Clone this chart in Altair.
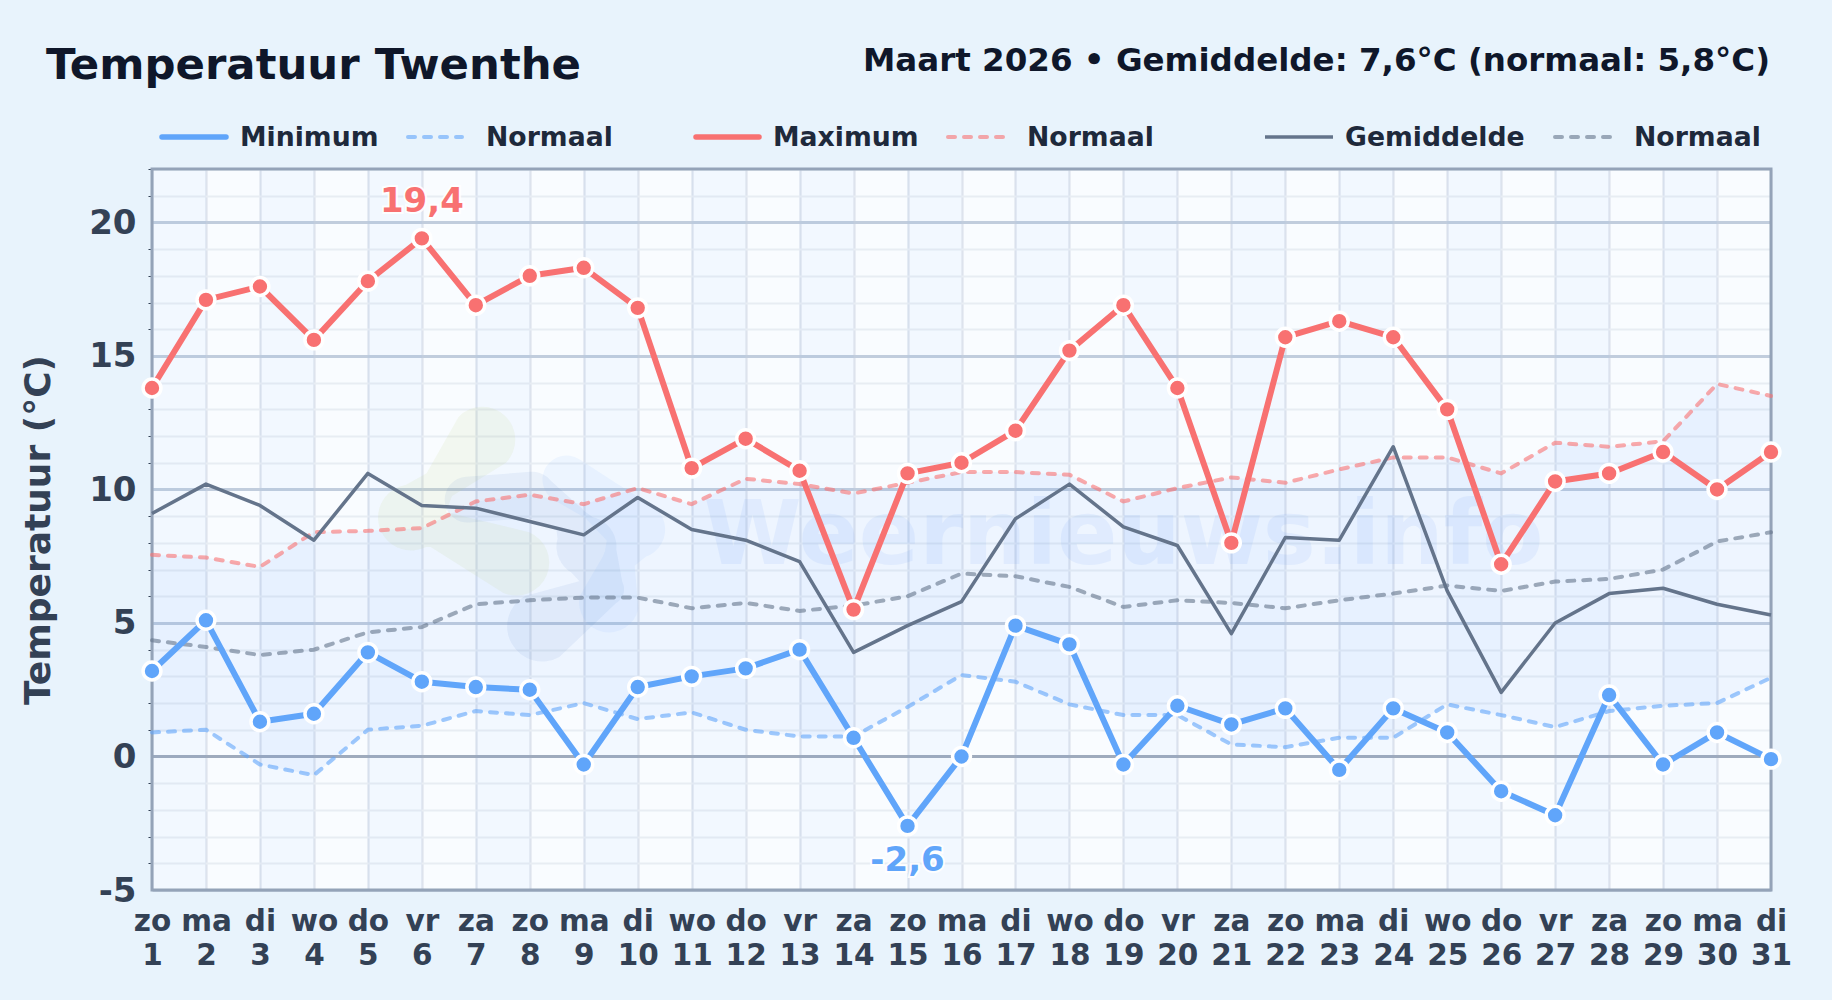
import altair as alt
import pandas as pd

days = list(range(1, 32))
weekdays = ["zo","ma","di","wo","do","vr","za"] * 4 + ["zo","ma","di"]

t_min = [3.2,5.1,1.3,1.6,3.9,2.8,2.6,2.5,-0.3,2.6,3.0,3.3,4.0,0.7,-2.6,0.0,4.9,4.2,-0.3,1.9,1.2,1.8,-0.5,1.8,0.9,-1.3,-2.2,2.3,-0.3,0.9,-0.1]
t_max = [13.8,17.1,17.6,15.6,17.8,19.4,16.9,18.0,18.3,16.8,10.8,11.9,10.7,5.5,10.6,11.0,12.2,15.2,16.9,13.8,8.0,15.7,16.3,15.7,13.0,7.2,10.3,10.6,11.4,10.0,11.4]
t_avg = [9.1,10.2,9.4,8.1,10.6,9.4,9.3,8.8,8.3,9.7,8.5,8.1,7.3,3.9,4.9,5.8,8.9,10.2,8.6,7.9,4.6,8.2,8.1,11.6,6.2,2.4,5.0,6.1,6.3,5.7,5.3]
n_min = [0.9,1.0,-0.3,-0.7,1.0,1.15,1.7,1.55,2.0,1.4,1.65,1.0,0.75,0.75,1.85,3.05,2.8,1.95,1.55,1.55,0.45,0.35,0.7,0.7,1.95,1.55,1.1,1.7,1.9,2.0,2.95]
n_max = [7.55,7.45,7.1,8.4,8.45,8.55,9.55,9.8,9.45,10.05,9.45,10.4,10.2,9.85,10.25,10.65,10.65,10.55,9.55,10.05,10.45,10.25,10.75,11.2,11.2,10.6,11.75,11.6,11.8,13.95,13.5]
n_avg = [4.35,4.1,3.8,4.0,4.65,4.85,5.7,5.85,5.95,5.95,5.55,5.75,5.45,5.65,6.0,6.85,6.75,6.35,5.6,5.85,5.75,5.55,5.85,6.1,6.4,6.2,6.55,6.65,7.0,8.05,8.4]

# watermark logo lobes: (day, degrees, thickness)
blob_green = [(7.12,11.86,66),(6.32,10.18,34),(5.8,8.95,66),(6.3,8.5,38),(7.75,7.26,66)]
blob_dark = [(6.85,9.62,46),(8.05,9.8,46),(8.74,8.9,32),(9.05,7.86,60),(9.45,6.26,32),(8.23,4.87,70)]
blob_light = [(8.68,10.37,48),(9.29,9.62,46),(9.97,8.5,58),(9.65,7.38,32),(9.47,5.77,60)]

FONT = "DejaVu Sans"
BG = "#e8f3fc"
L, T = 152, 169
W, H = 1619, 721

df = pd.DataFrame(dict(day=days, tmin=t_min, tmax=t_max, tavg=t_avg, nmin=n_min, nmax=n_max, navg=n_avg))
stripes = pd.DataFrame({"a": days[:-1][::2], "b": days[1:][::2]})

xs = alt.Scale(domain=[1, 31], nice=False, zero=False)
ys = alt.Scale(domain=[-5, 22], nice=False, zero=False)

names_js = "[" + ",".join(f"'{d}'" for d in weekdays) + "]"
major = "datum.value % 5 === 0"
x_axis = alt.Axis(
    values=days, labelExpr=f"[{names_js}[datum.value-1], ''+datum.value]",
    labelFont=FONT, labelFontWeight="bold", labelFontSize=29.5, labelColor="#334155",
    labelLineHeight=34, labelPadding=17, labelOverlap=False, labelFlush=False, ticks=False, domain=False,
    grid=True, gridColor="#dde3ed", gridWidth=2.2)
y_axis = alt.Axis(
    values=list(range(-5, 23)), labelExpr=f"{major} ? '' + datum.value : ''",
    labelFont=FONT, labelFontWeight="bold", labelFontSize=34, labelColor="#334155", labelPadding=12, labelOffset=1,
    labelOverlap=False, domain=False, tickSize=4,
    tickColor={"condition": {"test": major, "value": "transparent"}, "value": "#334155"},
    grid=True,
    gridColor={"condition": [{"test": "datum.value === 0", "value": "#9fabbd"}, {"test": major, "value": "#c1cddd"}], "value": "#e8edf3"},
    gridWidth={"condition": {"test": major, "value": 2.8}, "value": 2},
    titleFont=FONT, titleFontWeight="bold", titleFontSize=36, titleColor="#334155", titlePadding=31)

YT = "Temperatuur (°C)"
X = alt.X("day:Q", scale=xs, axis=x_axis, title=None)
def Y(f):
    return alt.Y(f, type="quantitative", scale=ys, axis=y_axis, title=YT)

stripe_layer = alt.Chart(stripes).mark_rect(color="#60a5fa", opacity=0.045).encode(
    x=alt.X("a:Q", scale=xs, axis=x_axis, title=None), x2="b:Q")

def blob(pts, color, op):
    d = pd.DataFrame([{"day": a, "v": b, "w": w, "i": i} for i, (a, b, w) in enumerate(pts)])
    return alt.Chart(d).mark_trail(color=color, opacity=op).encode(
        x=X, y=Y("v"), order="i:Q", size=alt.Size("w:Q", scale=None, legend=None))

blobs = [blob(blob_green, "#c6dc8a", 0.13), blob(blob_light, "#60a5fa", 0.08), blob(blob_dark, "#3b72c0", 0.075)]

wm = alt.Chart(pd.DataFrame({"day": [19.0], "v": [7.2], "t": ["Weernieuws.info"]})).mark_text(
    font=FONT, fontWeight="bold", fontSize=89, color="#3b82f6", opacity=0.075, align="center", baseline="alphabetic"
).encode(x=X, y=Y("v"), text="t:N")

band = alt.Chart(df).mark_area(color="#3b82f6", opacity=0.055).encode(x=X, y=Y("nmin"), y2="nmax:Q")

def dashed(f, color):
    return alt.Chart(df).mark_line(color=color, opacity=0.6, strokeWidth=4, strokeDash=[7, 9], strokeCap="round").encode(x=X, y=Y(f))

def solid(f, color, w):
    return alt.Chart(df).mark_line(color=color, strokeWidth=w, strokeJoin="round").encode(x=X, y=Y(f))

def points(f, color):
    return alt.Chart(df).mark_point(filled=True, fill=color, fillOpacity=1, stroke="white", strokeWidth=3.5, strokeOpacity=1, size=320, shape="circle").encode(x=X, y=Y(f))

BLUE, RED, SLATE = "#60a5fa", "#f87171", "#64748b"

def ann(idx, series, label, color, dy):
    d = pd.DataFrame({"day": [days[idx]], "v": [series[idx]], "t": [label]})
    base = dict(font=FONT, fontWeight="bold", fontSize=34, align="center", baseline="middle", dy=dy)
    a = alt.Chart(d).mark_text(color="white", stroke="white", strokeWidth=4, strokeOpacity=0.9, **base).encode(x=X, y=Y("v"), text="t:N")
    b = alt.Chart(d).mark_text(color=color, **base).encode(x=X, y=Y("v"), text="t:N")
    return a + b

one = alt.Data(values=[{}])
def label(text, px, py, size, color, align="left"):
    return alt.Chart(one).mark_text(text=text, font=FONT, fontWeight="bold", fontSize=size, color=color, align=align, baseline="alphabetic").encode(
        x=alt.value(px - L), y=alt.value(py - T))

def key(x0, x1, y, color, w, dash=None, op=1.0, cap="round"):
    kw = dict(color=color, strokeWidth=w, opacity=op, strokeCap=cap)
    if dash:
        kw["strokeDash"] = dash
    return alt.Chart(one).mark_rule(**kw).encode(x=alt.value(x0 - L), x2=alt.value(x1 - L), y=alt.value(y - T))

LY = 137
TY = 146
LC = "#1e293b"
LS = 26.7
DASH = [7, 9]
legend = [
    key(162, 226, LY, BLUE, 5.5), label("Minimum", 240, TY, LS, LC),
    key(408, 462, LY, BLUE, 4, DASH, 0.6), label("Normaal", 486, TY, LS, LC),
    key(696, 759, LY, RED, 5.5), label("Maximum", 773, TY, LS, LC),
    key(948, 1003, LY, RED, 4, DASH, 0.6), label("Normaal", 1027, TY, LS, LC),
    key(1265, 1333, LY, SLATE, 3.5, cap="butt"), label("Gemiddelde", 1345, TY, LS, LC),
    key(1555, 1615, LY, SLATE, 4, DASH, 0.6), label("Normaal", 1634, TY, LS, LC),
]

frame = alt.Chart(one).mark_rect(fill="transparent", stroke="#94a3b8", strokeWidth=3).encode(
    x=alt.value(0), x2=alt.value(W), y=alt.value(0), y2=alt.value(H))

chart = alt.layer(
    stripe_layer, *blobs, wm, band,
    frame,
    dashed("nmin", BLUE), dashed("nmax", RED), dashed("navg", SLATE),
    solid("tavg", SLATE, 3.5),
    solid("tmin", BLUE, 6), solid("tmax", RED, 6),
    points("tmin", BLUE), points("tmax", RED),
    ann(5, t_max, "19,4", RED, -36), ann(14, t_min, "-2,6", BLUE, 35),
    label("Temperatuur Twenthe", 46, 79, 43.4, "#0f172a"),
    label("Maart 2026 • Gemiddelde: 7,6°C (normaal: 5,8°C)", 1770, 71, 32.5, "#0f172a", "right"),
    *legend,
).properties(
    width=W, height=H,
    background=BG,
    padding={"left": L - 8, "top": T - 8, "right": 1816 - (L - 8) - W, "bottom": 984 - (T - 8) - H},
    autosize=alt.AutoSizeParams(type="none"),
).configure_view(fill="#f9fcff", stroke=None)

chart.save("out.html", embed_options={"renderer": "svg", "actions": False,
    "defaultStyle": "html,body{background:#e8f3fc}.vega-embed{position:relative;display:inline-block;box-sizing:border-box}"})
